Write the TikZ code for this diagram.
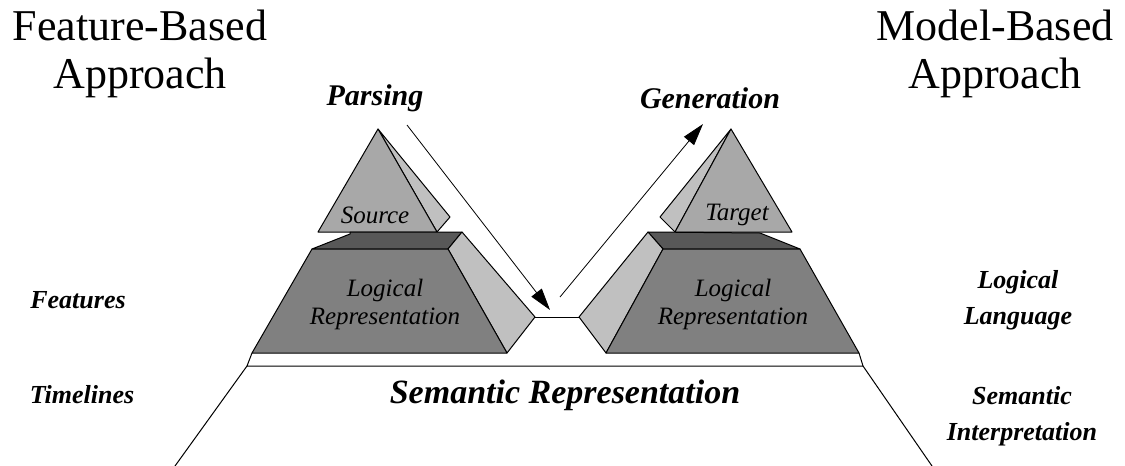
\documentclass[tikz,border=0pt]{standalone}
\usepackage{fontspec}
\setmainfont{Liberation Serif}
\usetikzlibrary{arrows.meta}
\definecolor{facelight}{RGB}{192,192,192}
\definecolor{facemid}{RGB}{168,168,168}
\definecolor{facefront}{RGB}{128,128,128}
\definecolor{facetop}{RGB}{88,88,88}

\begin{document}
\begin{tikzpicture}[x=0.5pt,y=-0.5pt,
  face/.style={draw=black,line width=0.5pt,line join=round},
  ar/.style={-{Triangle[length=11pt,width=6.5pt]},line width=0.4pt},
  title/.style={font=\fontsize{22}{24}\selectfont,align=center},
  side/.style={font=\fontsize{13}{18}\selectfont\bfseries\itshape,align=center},
  flow/.style={font=\fontsize{15}{16}\selectfont\bfseries\itshape},
  inner/.style={font=\fontsize{12.5}{14}\selectfont\itshape,align=center}]
\useasboundingbox (0,0) rectangle (1125,466);

% source pyramid (left)
\draw[face,fill=facelight] (378,129) -- (450,217) -- (437,232) -- cycle;
\draw[face,fill=facemid] (378,129) -- (318,232) -- (437,232) -- cycle;
\draw[face,fill=facetop] (312,249) -- (350,234) -- (350,232) -- (462,232) -- (448,249) -- cycle;
\draw[face,fill=facelight] (448,249) -- (462,232) -- (535,317) -- (507,353) -- cycle;
\draw[face,fill=facefront] (312,249) -- (448,249) -- (507,353) -- (252,353) -- cycle;

% target pyramid (right)
\draw[face,fill=facelight] (731,129) -- (660,217) -- (675,232) -- cycle;
\draw[face,fill=facemid] (731,129) -- (675,232) -- (792,232) -- cycle;
\draw[face,fill=facetop] (648,232) -- (760,233) -- (800,249) -- (663,249) -- cycle;
\draw[face,fill=facelight] (579,317) -- (648,232) -- (663,249) -- (606,353) -- cycle;
\draw[face,fill=facefront] (663,249) -- (800,249) -- (859,353) -- (606,353) -- cycle;

% gap and base
\draw[line width=0.5pt] (535,317) -- (579,317);
\draw[line width=0.5pt] (252,353) -- (247,366) -- (863,366) -- (859,353);
\draw[line width=0.5pt] (247,366) -- (175,466);
\draw[line width=0.5pt] (863,366) -- (932,466);

% arrows
\coordinate (parseA) at (407,125);
\coordinate (parseB) at (550,310);
\coordinate (genA) at (560,297);
\coordinate (genB) at (703,124);
\draw[ar] (parseA) -- (parseB);
\draw[ar] (genA) -- (genB);

% labels
\node[title] (fb) at (140,54) {Feature-Based\\Approach};
\node[title] (mb) at (995,54) {Model-Based\\Approach};
\node[flow] (parse) at (375,98) {Parsing};
\node[flow] (gen) at (710,98) {Generation};
\node[inner] (src) at (375,215) {Source};
\node[inner] (tgt) at (737,215) {Target};
\node[inner] (lrl) at (385,304) {Logical\\Representation};
\node[inner] (lrr) at (733,304) {Logical\\Representation};
\node[side] (feat) at (78,300) {Features};
\node[side] (time) at (82,395) {Timelines};
\node[side] (loglang) at (1018,300) {Logical\\Language};
\node[side] (semint) at (1022,416) {Semantic\\Interpretation};
\node[flow,font=\fontsize{17}{18}\selectfont\bfseries\itshape] (semrep) at (565,395) {Semantic Representation};
\end{tikzpicture}
\end{document}
